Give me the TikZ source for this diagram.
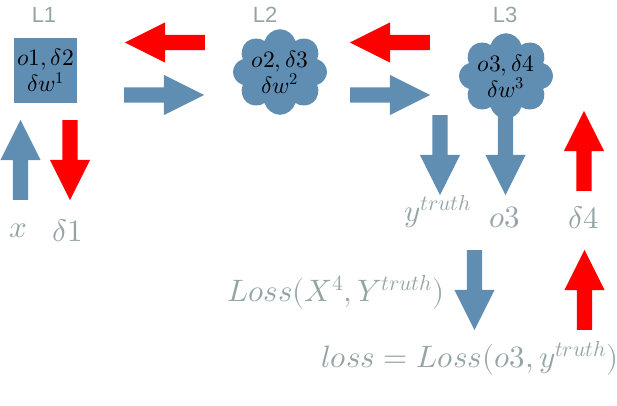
\documentclass[tikz,border=0pt]{standalone}
\usepackage{fontspec}
\usepackage{unicode-math}
\setmathfont{Latin Modern Math}
\newfontfamily\labelsans{Liberation Sans}
\usetikzlibrary{shapes.arrows, shapes.symbols, positioning}
\definecolor{layerblue}{HTML}{608DB2}
\definecolor{gradred}{HTML}{FF0000}
\definecolor{notegray}{HTML}{95A5A6}
\tikzset{
  fwd/.style={single arrow, draw=none, fill=layerblue, inner sep=7.5pt, anchor=tail,
    minimum width=40pt, minimum height=80pt, single arrow head extend=12.5pt,
    single arrow tip angle=53.13},
  bwd/.style={fwd, fill=gradred},
  unit/.style={fill=layerblue, align=center, inner sep=0pt,
    font=\fontsize{23.5}{26}\selectfont, text=black},
  layertag/.style={font=\labelsans\fontsize{22}{22}\selectfont, text=notegray},
  note/.style={font=\fontsize{31}{32}\selectfont, text=notegray, inner sep=0pt}
}

\begin{document}
\begin{tikzpicture}[x=1pt, y=-1pt]
\useasboundingbox (0,0) rectangle (617,405);
% layers
\node[unit, minimum width=63pt, minimum height=65pt] (l1) at (45.5,70.5) {$o1,\delta2$\\$\delta w^1$};
\node[unit, cloud, cloud puffs=8, aspect=1.2, minimum width=80pt, minimum height=68pt] (l2) at (280,72) {$o2,\delta3$\\$\delta w^2$};
\node[unit, cloud, cloud puffs=8, aspect=1.2, minimum width=83pt, minimum height=67pt] (l3) at (506,76) {$o3,\delta4$\\$\delta w^3$};
\node[layertag] (t1) at (44,15) {L1};
\node[layertag] (t2) at (265,15) {L2};
\node[layertag] (t3) at (505,15) {L3};
% forward / backward between layers (placed by their tails)
\node[bwd, shape border rotate=180] (b12) at (205,42.5) {};
\node[fwd] (f12) at (124,95) {};
\node[bwd, shape border rotate=180] (b23) at (430,42.5) {};
\node[fwd] (f23) at (350,95) {};
% input side
\node[fwd, shape border rotate=90] (fin) at (20.5,200) {};
\node[bwd, shape border rotate=270] (bin) at (70,120) {};
\node[note] (xin) at (18,231) {$x$};
\node[note] (d1) at (68,231) {$\delta1$};
% output side
\node[fwd, shape border rotate=270] (ftr) at (440,115) {};
\node[fwd, shape border rotate=270] (fo3) at (505.5,115) {};
\node[bwd, shape border rotate=90] (bd4) at (584,191) {};
\node[note] (ytr) at (438,212) {$y^{truth}$};
\node[note] (o3) at (505,218) {$o3$};
\node[note] (d4) at (584,218) {$\delta4$};
% loss
\node[fwd, shape border rotate=270] (floss) at (474.5,250) {};
\node[bwd, shape border rotate=90] (bloss) at (584.5,330) {};
\node[note] (lossfn) at (336,292) {$Loss(X^4,Y^{truth})$};
\node[note] (lossval) at (470,358) {$loss=Loss(o3,y^{truth})$};
\end{tikzpicture}
\end{document}
